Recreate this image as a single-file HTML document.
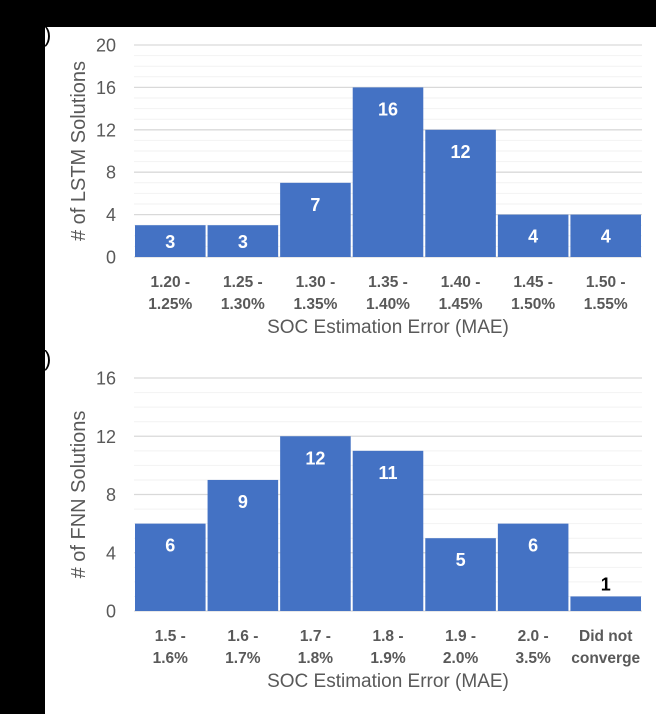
<!DOCTYPE html>
<html><head><meta charset="utf-8"><style>
html,body{margin:0;padding:0;background:#000;}
svg{display:block;font-family:"Liberation Sans",sans-serif;}
</style></head><body>
<svg id="s" width="656" height="714">
<rect x="45" y="27" width="611" height="687" fill="#fff"/>
<text x="44" y="42" font-size="22" fill="#000">)</text>
<text x="44" y="366" font-size="22" fill="#000">)</text>
</svg>
<script>
const lstmCats=[["1.20 -","1.25%"],["1.25 -","1.30%"],["1.30 -","1.35%"],["1.35 -","1.40%"],["1.40 -","1.45%"],["1.45 -","1.50%"],["1.50 -","1.55%"]];
const lstmVals=[3,3,7,16,12,4,4];
const lstmTicks=[0,4,8,12,16,20];
const fnnCats=[["1.5 -","1.6%"],["1.6 -","1.7%"],["1.7 -","1.8%"],["1.8 -","1.9%"],["1.9 -","2.0%"],["2.0 -","3.5%"],["Did not","converge"]];
const fnnVals=[6,9,12,11,5,6,1];
const fnnTicks=[0,4,8,12,16];
const svg=document.getElementById('s');
const NS='http://www.w3.org/2000/svg';
function mk(t,a,txt){const e=document.createElementNS(NS,t);for(const k in a)e.setAttribute(k,a[k]);if(txt!==undefined)e.textContent=txt;svg.appendChild(e);return e;}
function chart(p,cats,vals,ticks,ytitle,name){
  const max=ticks[ticks.length-1];
  const y=v=>p.y0-(v/max)*(p.y0-p.y1);
  const bw=(p.x1-p.x0)/cats.length;
  const x=i=>p.x0+i*bw;
  for(let v=1;v<max;v++){if(v%4){const g=mk('line',{x1:p.x0,x2:p.x1,y1:y(v),y2:y(v),stroke:'#f2f2f2','stroke-width':1});
    }}
  ticks.forEach(t=>{
    const g=mk('line',{x1:p.x0,x2:p.x1,y1:y(t),y2:y(t),stroke:'#d9d9d9','stroke-width':1.3});
    
    const l=mk('text',{x:116,y:y(t)+6.5,'font-size':18,fill:'#595959','text-anchor':'end'},t);
    
  });
  vals.forEach((v,i)=>{
    const r=mk('rect',{x:x(i)+1,y:y(v),width:bw-2,height:p.y0-y(v),fill:'#4472c4'});
    
    const small=(p.y0-y(v))<25;
    const ly=small?y(v)-6:Math.min(y(v)+28,(y(v)+p.y0)/2+7);
    const t=mk('text',{x:x(i)+bw/2,y:ly,'font-size':18,'font-weight':'bold',fill:small?'#000':'#fff','text-anchor':'middle'},v);
    
    cats[i].forEach((s,j)=>{
      const c=mk('text',{x:x(i)+bw/2,y:p.y0+30+j*22,'font-size':15.5,'font-weight':'bold',fill:'#595959','text-anchor':'middle'},s);
      
    });
  });
  const xt=mk('text',{x:(p.x0+p.x1)/2,y:p.y0+76,'font-size':19,fill:'#595959','text-anchor':'middle'},'SOC Estimation Error (MAE)');
  
  const cy=(p.y0+p.y1)/2;
  const yt=mk('text',{x:0,y:0,'font-size':20,fill:'#595959','text-anchor':'middle',transform:`translate(85,${cy}) rotate(-90)`},ytitle);
  
}
chart({x0:134,x1:642,y0:257,y1:45},lstmCats,lstmVals,lstmTicks,'# of LSTM Solutions','lstm');
chart({x0:134,x1:642,y0:611,y1:378},fnnCats,fnnVals,fnnTicks,'# of FNN Solutions','fnn');
</script>
</body></html>
